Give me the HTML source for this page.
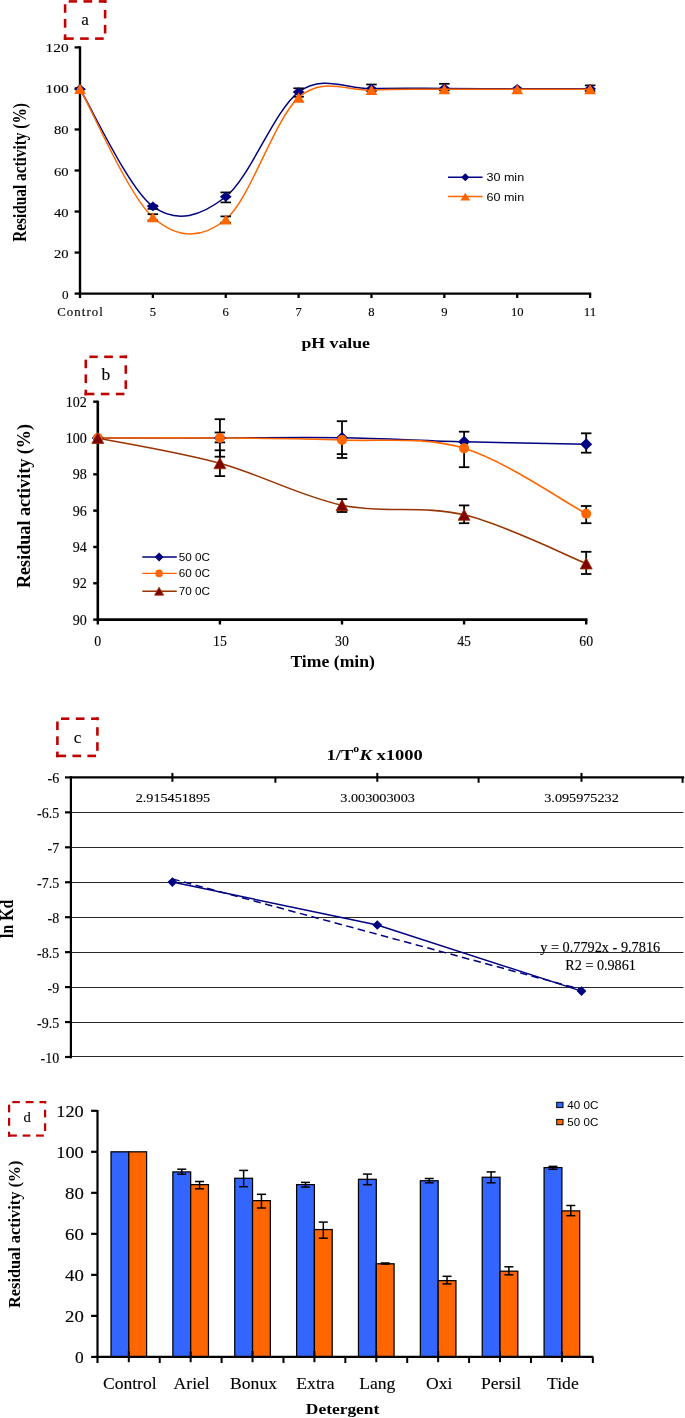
<!DOCTYPE html>
<html><head><meta charset="utf-8"><style>
html,body{margin:0;padding:0;background:#fff;}
svg{display:block;will-change:transform;}
</style></head><body>
<svg width="685" height="1418" viewBox="0 0 685 1418">
<rect width="685" height="1418" fill="#fff"/>
<line x1="68.7" y1="1.4" x2="77" y2="1.4" stroke="#C00000" stroke-width="2.6" />
<line x1="83.5" y1="1.4" x2="92.2" y2="1.4" stroke="#C00000" stroke-width="2.6" />
<line x1="98.8" y1="1.4" x2="106.4" y2="1.4" stroke="#C00000" stroke-width="2.6" />
<line x1="105.1" y1="0.1" x2="105.1" y2="2.9" stroke="#C00000" stroke-width="2.6" />
<line x1="105.1" y1="9.9" x2="105.1" y2="18.4" stroke="#C00000" stroke-width="2.6" />
<line x1="105.1" y1="24.9" x2="105.1" y2="33.5" stroke="#C00000" stroke-width="2.6" />
<line x1="63.8" y1="38.6" x2="73.7" y2="38.6" stroke="#C00000" stroke-width="2.6" />
<line x1="80.1" y1="38.6" x2="88.7" y2="38.6" stroke="#C00000" stroke-width="2.6" />
<line x1="95.1" y1="38.6" x2="103.7" y2="38.6" stroke="#C00000" stroke-width="2.6" />
<line x1="65.1" y1="4.25" x2="65.1" y2="12.8" stroke="#C00000" stroke-width="2.6" />
<line x1="65.1" y1="19" x2="65.1" y2="27.7" stroke="#C00000" stroke-width="2.6" />
<line x1="65.1" y1="34.3" x2="65.1" y2="39.9" stroke="#C00000" stroke-width="2.6" />
<text x="85.1" y="24.8" font-family='"Liberation Serif", serif' font-size="17" font-weight="normal" fill="#000" text-anchor="middle" stroke="#000" stroke-width="0.12">a</text>
<line x1="80" y1="46.3" x2="80" y2="294.8" stroke="#000" stroke-width="2.4" />
<line x1="78.8" y1="293.6" x2="591.2" y2="293.6" stroke="#000" stroke-width="2.4" />
<line x1="74.6" y1="293.6" x2="80" y2="293.6" stroke="#000" stroke-width="2.3" />
<text x="68.6" y="298.6" font-family='"Liberation Serif", serif' font-size="12.6" font-weight="normal" fill="#000" text-anchor="end" stroke="#000" stroke-width="0.12" textLength="6.6" lengthAdjust="spacingAndGlyphs">0</text>
<line x1="74.6" y1="252.57" x2="80" y2="252.57" stroke="#000" stroke-width="2.3" />
<text x="68.6" y="257.57" font-family='"Liberation Serif", serif' font-size="12.6" font-weight="normal" fill="#000" text-anchor="end" stroke="#000" stroke-width="0.12" textLength="14.6" lengthAdjust="spacingAndGlyphs">20</text>
<line x1="74.6" y1="211.53" x2="80" y2="211.53" stroke="#000" stroke-width="2.3" />
<text x="68.6" y="216.53" font-family='"Liberation Serif", serif' font-size="12.6" font-weight="normal" fill="#000" text-anchor="end" stroke="#000" stroke-width="0.12" textLength="14.6" lengthAdjust="spacingAndGlyphs">40</text>
<line x1="74.6" y1="170.5" x2="80" y2="170.5" stroke="#000" stroke-width="2.3" />
<text x="68.6" y="175.5" font-family='"Liberation Serif", serif' font-size="12.6" font-weight="normal" fill="#000" text-anchor="end" stroke="#000" stroke-width="0.12" textLength="14.6" lengthAdjust="spacingAndGlyphs">60</text>
<line x1="74.6" y1="129.46" x2="80" y2="129.46" stroke="#000" stroke-width="2.3" />
<text x="68.6" y="134.46" font-family='"Liberation Serif", serif' font-size="12.6" font-weight="normal" fill="#000" text-anchor="end" stroke="#000" stroke-width="0.12" textLength="14.6" lengthAdjust="spacingAndGlyphs">80</text>
<line x1="74.6" y1="88.43" x2="80" y2="88.43" stroke="#000" stroke-width="2.3" />
<text x="68.6" y="93.43" font-family='"Liberation Serif", serif' font-size="12.6" font-weight="normal" fill="#000" text-anchor="end" stroke="#000" stroke-width="0.12" textLength="23.1" lengthAdjust="spacingAndGlyphs">100</text>
<line x1="74.6" y1="47.4" x2="80" y2="47.4" stroke="#000" stroke-width="2.3" />
<text x="68.6" y="52.4" font-family='"Liberation Serif", serif' font-size="12.6" font-weight="normal" fill="#000" text-anchor="end" stroke="#000" stroke-width="0.12" textLength="23.1" lengthAdjust="spacingAndGlyphs">120</text>
<line x1="80" y1="293.6" x2="80" y2="298" stroke="#000" stroke-width="2.3" />
<text x="80" y="315.9" font-family='"Liberation Serif", serif' font-size="12.8" font-weight="normal" fill="#000" text-anchor="middle" stroke="#000" stroke-width="0.12" textLength="45.5" lengthAdjust="spacing">Control</text>
<line x1="152.87" y1="293.6" x2="152.87" y2="298" stroke="#000" stroke-width="2.3" />
<text x="152.87" y="315.9" font-family='"Liberation Serif", serif' font-size="12.6" font-weight="normal" fill="#000" text-anchor="middle" stroke="#000" stroke-width="0.12" textLength="6.3" lengthAdjust="spacingAndGlyphs">5</text>
<line x1="225.74" y1="293.6" x2="225.74" y2="298" stroke="#000" stroke-width="2.3" />
<text x="225.74" y="315.9" font-family='"Liberation Serif", serif' font-size="12.6" font-weight="normal" fill="#000" text-anchor="middle" stroke="#000" stroke-width="0.12" textLength="6.3" lengthAdjust="spacingAndGlyphs">6</text>
<line x1="298.61" y1="293.6" x2="298.61" y2="298" stroke="#000" stroke-width="2.3" />
<text x="298.61" y="315.9" font-family='"Liberation Serif", serif' font-size="12.6" font-weight="normal" fill="#000" text-anchor="middle" stroke="#000" stroke-width="0.12" textLength="6.3" lengthAdjust="spacingAndGlyphs">7</text>
<line x1="371.48" y1="293.6" x2="371.48" y2="298" stroke="#000" stroke-width="2.3" />
<text x="371.48" y="315.9" font-family='"Liberation Serif", serif' font-size="12.6" font-weight="normal" fill="#000" text-anchor="middle" stroke="#000" stroke-width="0.12" textLength="6.3" lengthAdjust="spacingAndGlyphs">8</text>
<line x1="444.35" y1="293.6" x2="444.35" y2="298" stroke="#000" stroke-width="2.3" />
<text x="444.35" y="315.9" font-family='"Liberation Serif", serif' font-size="12.6" font-weight="normal" fill="#000" text-anchor="middle" stroke="#000" stroke-width="0.12" textLength="6.3" lengthAdjust="spacingAndGlyphs">9</text>
<line x1="517.22" y1="293.6" x2="517.22" y2="298" stroke="#000" stroke-width="2.3" />
<text x="517.22" y="315.9" font-family='"Liberation Serif", serif' font-size="12.6" font-weight="normal" fill="#000" text-anchor="middle" stroke="#000" stroke-width="0.12" textLength="12.6" lengthAdjust="spacingAndGlyphs">10</text>
<line x1="590.09" y1="293.6" x2="590.09" y2="298" stroke="#000" stroke-width="2.3" />
<text x="590.09" y="315.9" font-family='"Liberation Serif", serif' font-size="12.6" font-weight="normal" fill="#000" text-anchor="middle" stroke="#000" stroke-width="0.12" textLength="12.6" lengthAdjust="spacingAndGlyphs">11</text>
<text x="335.7" y="347.9" font-family='"Liberation Serif", serif' font-size="13.9" font-weight="bold" fill="#000" text-anchor="middle" textLength="68.6" lengthAdjust="spacingAndGlyphs">pH value</text>
<text transform="translate(25.8,172.5) scale(1.19,1) rotate(-90)" font-family='"Liberation Serif", serif' font-size="15.3" font-weight="bold" text-anchor="middle" textLength="138.6" lengthAdjust="spacingAndGlyphs">Residual activity (%)</text>
<path d="M80,89.25 C92.14,108.78 128.58,188.48 152.87,206.4 C177.16,224.32 201.45,215.81 225.74,196.76 C250.03,177.71 274.32,110.14 298.61,92.12 C322.9,74.1 347.19,89.25 371.48,88.64 C395.77,88.02 420.06,88.4 444.35,88.43 C468.64,88.46 492.93,88.77 517.22,88.84 C541.51,88.91 577.95,88.84 590.09,88.84" fill="none" stroke="#000080" stroke-width="1.5" />
<line x1="152.87" y1="205.5" x2="152.87" y2="208.9" stroke="#000" stroke-width="1.7" />
<line x1="147.62" y1="205.5" x2="158.12" y2="205.5" stroke="#000" stroke-width="1.7" />
<line x1="147.62" y1="208.9" x2="158.12" y2="208.9" stroke="#000" stroke-width="1.7" />
<line x1="225.74" y1="192.4" x2="225.74" y2="202.4" stroke="#000" stroke-width="1.7" />
<line x1="220.49" y1="192.4" x2="230.99" y2="192.4" stroke="#000" stroke-width="1.7" />
<line x1="220.49" y1="202.4" x2="230.99" y2="202.4" stroke="#000" stroke-width="1.7" />
<line x1="298.61" y1="88.3" x2="298.61" y2="96.8" stroke="#000" stroke-width="1.7" />
<line x1="293.36" y1="88.3" x2="303.86" y2="88.3" stroke="#000" stroke-width="1.7" />
<line x1="293.36" y1="96.8" x2="303.86" y2="96.8" stroke="#000" stroke-width="1.7" />
<line x1="371.48" y1="84.5" x2="371.48" y2="91" stroke="#000" stroke-width="1.7" />
<line x1="366.23" y1="84.5" x2="376.73" y2="84.5" stroke="#000" stroke-width="1.7" />
<line x1="366.23" y1="91" x2="376.73" y2="91" stroke="#000" stroke-width="1.7" />
<line x1="444.35" y1="83.8" x2="444.35" y2="90.3" stroke="#000" stroke-width="1.7" />
<line x1="439.1" y1="83.8" x2="449.6" y2="83.8" stroke="#000" stroke-width="1.7" />
<line x1="439.1" y1="90.3" x2="449.6" y2="90.3" stroke="#000" stroke-width="1.7" />
<line x1="590.09" y1="85.4" x2="590.09" y2="91" stroke="#000" stroke-width="1.7" />
<line x1="584.84" y1="85.4" x2="595.34" y2="85.4" stroke="#000" stroke-width="1.7" />
<line x1="584.84" y1="91" x2="595.34" y2="91" stroke="#000" stroke-width="1.7" />
<path d="M80,84.35 L85.9,89.25 L80,94.15 L74.1,89.25Z" fill="#000080"/>
<path d="M152.87,201.5 L158.77,206.4 L152.87,211.3 L146.97,206.4Z" fill="#000080"/>
<path d="M225.74,191.86 L231.64,196.76 L225.74,201.66 L219.84,196.76Z" fill="#000080"/>
<path d="M298.61,87.22 L304.51,92.12 L298.61,97.02 L292.71,92.12Z" fill="#000080"/>
<path d="M371.48,83.74 L377.38,88.64 L371.48,93.54 L365.58,88.64Z" fill="#000080"/>
<path d="M444.35,83.53 L450.25,88.43 L444.35,93.33 L438.45,88.43Z" fill="#000080"/>
<path d="M517.22,83.94 L523.12,88.84 L517.22,93.74 L511.32,88.84Z" fill="#000080"/>
<path d="M590.09,83.94 L595.99,88.84 L590.09,93.74 L584.19,88.84Z" fill="#000080"/>
<path d="M80,88.84 C92.14,110.25 128.58,195.49 152.87,217.28 C177.16,239.06 201.45,239.47 225.74,219.53 C250.03,199.6 274.32,119.24 298.61,97.66 C322.9,76.09 347.19,91.47 371.48,90.07 C395.77,88.67 420.06,89.39 444.35,89.25 C468.64,89.11 492.93,89.25 517.22,89.25 C541.51,89.25 577.95,89.25 590.09,89.25" fill="none" stroke="#FF6600" stroke-width="1.5" />
<line x1="152.87" y1="214.2" x2="152.87" y2="220.4" stroke="#000" stroke-width="1.7" />
<line x1="147.62" y1="214.2" x2="158.12" y2="214.2" stroke="#000" stroke-width="1.7" />
<line x1="147.62" y1="220.4" x2="158.12" y2="220.4" stroke="#000" stroke-width="1.7" />
<line x1="225.74" y1="216.4" x2="225.74" y2="222.7" stroke="#000" stroke-width="1.7" />
<line x1="220.49" y1="216.4" x2="230.99" y2="216.4" stroke="#000" stroke-width="1.7" />
<line x1="220.49" y1="222.7" x2="230.99" y2="222.7" stroke="#000" stroke-width="1.7" />
<path d="M80,83.79 L85.9,93.89 L74.1,93.89Z" fill="#FF6600"/>
<path d="M152.87,212.23 L158.77,222.33 L146.97,222.33Z" fill="#FF6600"/>
<path d="M225.74,214.48 L231.64,224.58 L219.84,224.58Z" fill="#FF6600"/>
<path d="M298.61,92.61 L304.51,102.71 L292.71,102.71Z" fill="#FF6600"/>
<path d="M371.48,85.02 L377.38,95.12 L365.58,95.12Z" fill="#FF6600"/>
<path d="M444.35,84.2 L450.25,94.3 L438.45,94.3Z" fill="#FF6600"/>
<path d="M517.22,84.2 L523.12,94.3 L511.32,94.3Z" fill="#FF6600"/>
<path d="M590.09,84.2 L595.99,94.3 L584.19,94.3Z" fill="#FF6600"/>
<line x1="448" y1="177.2" x2="482.6" y2="177.2" stroke="#000080" stroke-width="1.4" />
<path d="M465.3,173.2 L469.4,177.2 L465.3,181.2 L461.2,177.2Z" fill="#000080"/>
<text x="486.4" y="181.2" font-family='"Liberation Sans", sans-serif' font-size="11.2" font-weight="normal" fill="#000" text-anchor="start" textLength="37.8" lengthAdjust="spacingAndGlyphs">30 min</text>
<line x1="448" y1="196.5" x2="482.6" y2="196.5" stroke="#FF6600" stroke-width="1.4" />
<path d="M465.3,192.8 L470.2,200.6 L460.4,200.6Z" fill="#FF6600"/>
<text x="486.4" y="200.5" font-family='"Liberation Sans", sans-serif' font-size="11.2" font-weight="normal" fill="#000" text-anchor="start" textLength="37.8" lengthAdjust="spacingAndGlyphs">60 min</text>
<line x1="89.4" y1="356.8" x2="97.7" y2="356.8" stroke="#C00000" stroke-width="2.6" />
<line x1="104.2" y1="356.8" x2="112.9" y2="356.8" stroke="#C00000" stroke-width="2.6" />
<line x1="119.5" y1="356.8" x2="127.1" y2="356.8" stroke="#C00000" stroke-width="2.6" />
<line x1="125.8" y1="355.5" x2="125.8" y2="358.3" stroke="#C00000" stroke-width="2.6" />
<line x1="125.8" y1="365.3" x2="125.8" y2="373.8" stroke="#C00000" stroke-width="2.6" />
<line x1="125.8" y1="380.3" x2="125.8" y2="388.9" stroke="#C00000" stroke-width="2.6" />
<line x1="84.5" y1="394" x2="94.4" y2="394" stroke="#C00000" stroke-width="2.6" />
<line x1="100.8" y1="394" x2="109.4" y2="394" stroke="#C00000" stroke-width="2.6" />
<line x1="115.8" y1="394" x2="124.4" y2="394" stroke="#C00000" stroke-width="2.6" />
<line x1="85.8" y1="359.65" x2="85.8" y2="368.2" stroke="#C00000" stroke-width="2.6" />
<line x1="85.8" y1="374.4" x2="85.8" y2="383.1" stroke="#C00000" stroke-width="2.6" />
<line x1="85.8" y1="389.7" x2="85.8" y2="395.3" stroke="#C00000" stroke-width="2.6" />
<text x="105.9" y="379.9" font-family='"Liberation Serif", serif' font-size="17.5" font-weight="normal" fill="#000" text-anchor="middle" stroke="#000" stroke-width="0.12">b</text>
<line x1="97.8" y1="400.7" x2="97.8" y2="620.6" stroke="#000" stroke-width="2.6" />
<line x1="96.5" y1="619.6" x2="587.5" y2="619.6" stroke="#000" stroke-width="2.6" />
<line x1="93.2" y1="619.6" x2="97.8" y2="619.6" stroke="#000" stroke-width="2.4" />
<text x="86.8" y="624.6" font-family='"Liberation Serif", serif' font-size="14.1" font-weight="normal" fill="#000" text-anchor="end" stroke="#000" stroke-width="0.12">90</text>
<line x1="93.2" y1="583.28" x2="97.8" y2="583.28" stroke="#000" stroke-width="2.4" />
<text x="86.8" y="588.28" font-family='"Liberation Serif", serif' font-size="14.1" font-weight="normal" fill="#000" text-anchor="end" stroke="#000" stroke-width="0.12">92</text>
<line x1="93.2" y1="546.96" x2="97.8" y2="546.96" stroke="#000" stroke-width="2.4" />
<text x="86.8" y="551.96" font-family='"Liberation Serif", serif' font-size="14.1" font-weight="normal" fill="#000" text-anchor="end" stroke="#000" stroke-width="0.12">94</text>
<line x1="93.2" y1="510.64" x2="97.8" y2="510.64" stroke="#000" stroke-width="2.4" />
<text x="86.8" y="515.64" font-family='"Liberation Serif", serif' font-size="14.1" font-weight="normal" fill="#000" text-anchor="end" stroke="#000" stroke-width="0.12">96</text>
<line x1="93.2" y1="474.32" x2="97.8" y2="474.32" stroke="#000" stroke-width="2.4" />
<text x="86.8" y="479.32" font-family='"Liberation Serif", serif' font-size="14.1" font-weight="normal" fill="#000" text-anchor="end" stroke="#000" stroke-width="0.12">98</text>
<line x1="93.2" y1="438" x2="97.8" y2="438" stroke="#000" stroke-width="2.4" />
<text x="86.8" y="443" font-family='"Liberation Serif", serif' font-size="14.1" font-weight="normal" fill="#000" text-anchor="end" stroke="#000" stroke-width="0.12">100</text>
<line x1="93.2" y1="401.68" x2="97.8" y2="401.68" stroke="#000" stroke-width="2.4" />
<text x="86.8" y="406.68" font-family='"Liberation Serif", serif' font-size="14.1" font-weight="normal" fill="#000" text-anchor="end" stroke="#000" stroke-width="0.12">102</text>
<line x1="97.8" y1="619.6" x2="97.8" y2="624.5" stroke="#000" stroke-width="2.4" />
<text x="97.8" y="646" font-family='"Liberation Serif", serif' font-size="13.8" font-weight="normal" fill="#000" text-anchor="middle" stroke="#000" stroke-width="0.12">0</text>
<line x1="219.9" y1="619.6" x2="219.9" y2="624.5" stroke="#000" stroke-width="2.4" />
<text x="219.9" y="646" font-family='"Liberation Serif", serif' font-size="13.8" font-weight="normal" fill="#000" text-anchor="middle" stroke="#000" stroke-width="0.12">15</text>
<line x1="342" y1="619.6" x2="342" y2="624.5" stroke="#000" stroke-width="2.4" />
<text x="342" y="646" font-family='"Liberation Serif", serif' font-size="13.8" font-weight="normal" fill="#000" text-anchor="middle" stroke="#000" stroke-width="0.12">30</text>
<line x1="464.1" y1="619.6" x2="464.1" y2="624.5" stroke="#000" stroke-width="2.4" />
<text x="464.1" y="646" font-family='"Liberation Serif", serif' font-size="13.8" font-weight="normal" fill="#000" text-anchor="middle" stroke="#000" stroke-width="0.12">45</text>
<line x1="586.2" y1="619.6" x2="586.2" y2="624.5" stroke="#000" stroke-width="2.4" />
<text x="586.2" y="646" font-family='"Liberation Serif", serif' font-size="13.8" font-weight="normal" fill="#000" text-anchor="middle" stroke="#000" stroke-width="0.12">60</text>
<text x="332.7" y="667" font-family='"Liberation Serif", serif' font-size="17.5" font-weight="bold" fill="#000" text-anchor="middle" textLength="84.6" lengthAdjust="spacingAndGlyphs">Time (min)</text>
<text transform="translate(30.1,506) rotate(-90)" font-family='"Liberation Serif", serif' font-size="18" font-weight="bold" fill="#000" text-anchor="middle" textLength="164" lengthAdjust="spacingAndGlyphs">Residual activity (%)</text>
<path d="M97.8,438 C118.15,442.21 179.2,452.04 219.9,463.24 C260.6,474.44 301.3,496.6 342,505.19 C382.7,513.79 423.4,505.1 464.1,514.82 C504.8,524.53 565.85,555.37 586.2,563.49" fill="none" stroke="#993300" stroke-width="1.6" />
<path d="M97.8,438 C118.15,438 179.2,438.03 219.9,438 C260.6,437.97 301.3,437.18 342,437.82 C382.7,438.45 423.4,440.75 464.1,441.81 C504.8,442.87 565.85,443.78 586.2,444.17" fill="none" stroke="#000080" stroke-width="1.5" />
<path d="M97.8,438 C118.15,438 179.2,437.67 219.9,438 C260.6,438.33 301.3,438.27 342,440 C382.7,441.72 423.4,436.06 464.1,448.35 C504.8,460.64 565.85,502.83 586.2,513.73" fill="none" stroke="#FF6600" stroke-width="1.6" />
<line x1="219.9" y1="419.2" x2="219.9" y2="456.7" stroke="#000" stroke-width="1.8" />
<line x1="214.65" y1="419.2" x2="225.15" y2="419.2" stroke="#000" stroke-width="1.8" />
<line x1="214.65" y1="456.7" x2="225.15" y2="456.7" stroke="#000" stroke-width="1.8" />
<line x1="214.65" y1="432.5" x2="225.15" y2="432.5" stroke="#000" stroke-width="1.8" />
<line x1="214.65" y1="442.4" x2="225.15" y2="442.4" stroke="#000" stroke-width="1.8" />
<line x1="219.9" y1="450.3" x2="219.9" y2="476.1" stroke="#000" stroke-width="1.8" />
<line x1="214.65" y1="450.3" x2="225.15" y2="450.3" stroke="#000" stroke-width="1.8" />
<line x1="214.65" y1="476.1" x2="225.15" y2="476.1" stroke="#000" stroke-width="1.8" />
<line x1="342" y1="421.2" x2="342" y2="458" stroke="#000" stroke-width="1.8" />
<line x1="336.75" y1="421.2" x2="347.25" y2="421.2" stroke="#000" stroke-width="1.8" />
<line x1="336.75" y1="458" x2="347.25" y2="458" stroke="#000" stroke-width="1.8" />
<line x1="336.75" y1="454.1" x2="347.25" y2="454.1" stroke="#000" stroke-width="1.8" />
<line x1="342" y1="499.1" x2="342" y2="512" stroke="#000" stroke-width="1.8" />
<line x1="336.75" y1="499.1" x2="347.25" y2="499.1" stroke="#000" stroke-width="1.8" />
<line x1="336.75" y1="512" x2="347.25" y2="512" stroke="#000" stroke-width="1.8" />
<line x1="464.1" y1="431.7" x2="464.1" y2="467.2" stroke="#000" stroke-width="1.8" />
<line x1="458.85" y1="431.7" x2="469.35" y2="431.7" stroke="#000" stroke-width="1.8" />
<line x1="458.85" y1="467.2" x2="469.35" y2="467.2" stroke="#000" stroke-width="1.8" />
<line x1="464.1" y1="505.4" x2="464.1" y2="523.2" stroke="#000" stroke-width="1.8" />
<line x1="458.85" y1="505.4" x2="469.35" y2="505.4" stroke="#000" stroke-width="1.8" />
<line x1="458.85" y1="523.2" x2="469.35" y2="523.2" stroke="#000" stroke-width="1.8" />
<line x1="586.2" y1="433.3" x2="586.2" y2="452.7" stroke="#000" stroke-width="1.8" />
<line x1="580.95" y1="433.3" x2="591.45" y2="433.3" stroke="#000" stroke-width="1.8" />
<line x1="580.95" y1="452.7" x2="591.45" y2="452.7" stroke="#000" stroke-width="1.8" />
<line x1="586.2" y1="506" x2="586.2" y2="523.2" stroke="#000" stroke-width="1.8" />
<line x1="580.95" y1="506" x2="591.45" y2="506" stroke="#000" stroke-width="1.8" />
<line x1="580.95" y1="523.2" x2="591.45" y2="523.2" stroke="#000" stroke-width="1.8" />
<line x1="586.2" y1="551.8" x2="586.2" y2="574" stroke="#000" stroke-width="1.8" />
<line x1="580.95" y1="551.8" x2="591.45" y2="551.8" stroke="#000" stroke-width="1.8" />
<line x1="580.95" y1="574" x2="591.45" y2="574" stroke="#000" stroke-width="1.8" />
<path d="M97.8,432 L103.8,438 L97.8,444 L91.8,438Z" fill="#000080"/>
<path d="M219.9,432 L225.9,438 L219.9,444 L213.9,438Z" fill="#000080"/>
<path d="M342,431.82 L348,437.82 L342,443.82 L336,437.82Z" fill="#000080"/>
<path d="M464.1,435.81 L470.1,441.81 L464.1,447.81 L458.1,441.81Z" fill="#000080"/>
<path d="M586.2,438.17 L592.2,444.17 L586.2,450.17 L580.2,444.17Z" fill="#000080"/>
<circle cx="97.8" cy="438" r="5" fill="#FF6600"/>
<circle cx="219.9" cy="438" r="5" fill="#FF6600"/>
<circle cx="342" cy="440" r="5" fill="#FF6600"/>
<circle cx="464.1" cy="448.35" r="5" fill="#FF6600"/>
<circle cx="586.2" cy="513.73" r="5" fill="#FF6600"/>
<path d="M97.8,432.5 L103.8,443.5 L91.8,443.5Z" fill="#800000" stroke="#993300" stroke-width="0.8"/>
<path d="M219.9,457.74 L225.9,468.74 L213.9,468.74Z" fill="#800000" stroke="#993300" stroke-width="0.8"/>
<path d="M342,499.69 L348,510.69 L336,510.69Z" fill="#800000" stroke="#993300" stroke-width="0.8"/>
<path d="M464.1,509.32 L470.1,520.32 L458.1,520.32Z" fill="#800000" stroke="#993300" stroke-width="0.8"/>
<path d="M586.2,557.99 L592.2,568.99 L580.2,568.99Z" fill="#800000" stroke="#993300" stroke-width="0.8"/>
<line x1="142.3" y1="557" x2="176.8" y2="557" stroke="#000080" stroke-width="1.4" />
<path d="M159.1,552.5 L163.6,557 L159.1,561.5 L154.6,557Z" fill="#000080"/>
<line x1="142.3" y1="573.4" x2="176.8" y2="573.4" stroke="#FF6600" stroke-width="1.4" />
<circle cx="159.1" cy="573.4" r="3.8" fill="#FF6600"/>
<line x1="142.3" y1="591.2" x2="176.8" y2="591.2" stroke="#993300" stroke-width="1.4" />
<path d="M159.1,587.2 L163.6,595.2 L154.6,595.2Z" fill="#800000" stroke="#993300" stroke-width="0.8"/>
<text x="178.8" y="561" font-family='"Liberation Sans", sans-serif' font-size="11.2" font-weight="normal" fill="#000" text-anchor="start" textLength="31.3" lengthAdjust="spacingAndGlyphs">50 0C</text>
<text x="178.8" y="577.4" font-family='"Liberation Sans", sans-serif' font-size="11.2" font-weight="normal" fill="#000" text-anchor="start" textLength="31.3" lengthAdjust="spacingAndGlyphs">60 0C</text>
<text x="178.8" y="595.2" font-family='"Liberation Sans", sans-serif' font-size="11.2" font-weight="normal" fill="#000" text-anchor="start" textLength="31.3" lengthAdjust="spacingAndGlyphs">70 0C</text>
<line x1="61" y1="718.7" x2="69.3" y2="718.7" stroke="#C00000" stroke-width="2.6" />
<line x1="75.8" y1="718.7" x2="84.5" y2="718.7" stroke="#C00000" stroke-width="2.6" />
<line x1="91.1" y1="718.7" x2="98.7" y2="718.7" stroke="#C00000" stroke-width="2.6" />
<line x1="97.4" y1="717.4" x2="97.4" y2="720.2" stroke="#C00000" stroke-width="2.6" />
<line x1="97.4" y1="727.2" x2="97.4" y2="735.7" stroke="#C00000" stroke-width="2.6" />
<line x1="97.4" y1="742.2" x2="97.4" y2="750.8" stroke="#C00000" stroke-width="2.6" />
<line x1="56.1" y1="755.9" x2="66" y2="755.9" stroke="#C00000" stroke-width="2.6" />
<line x1="72.4" y1="755.9" x2="81" y2="755.9" stroke="#C00000" stroke-width="2.6" />
<line x1="87.4" y1="755.9" x2="96" y2="755.9" stroke="#C00000" stroke-width="2.6" />
<line x1="57.4" y1="721.55" x2="57.4" y2="730.1" stroke="#C00000" stroke-width="2.6" />
<line x1="57.4" y1="736.3" x2="57.4" y2="745" stroke="#C00000" stroke-width="2.6" />
<line x1="57.4" y1="751.6" x2="57.4" y2="757.2" stroke="#C00000" stroke-width="2.6" />
<text x="77.5" y="742.5" font-family='"Liberation Serif", serif' font-size="17" font-weight="normal" fill="#000" text-anchor="middle" stroke="#000" stroke-width="0.12">c</text>
<line x1="70.9" y1="812.5" x2="683.4" y2="812.5" stroke="#262626" stroke-width="1.15" />
<line x1="70.9" y1="847.5" x2="683.4" y2="847.5" stroke="#262626" stroke-width="1.15" />
<line x1="70.9" y1="882.5" x2="683.4" y2="882.5" stroke="#262626" stroke-width="1.15" />
<line x1="70.9" y1="917.5" x2="683.4" y2="917.5" stroke="#262626" stroke-width="1.15" />
<line x1="70.9" y1="952.5" x2="683.4" y2="952.5" stroke="#262626" stroke-width="1.15" />
<line x1="70.9" y1="987.5" x2="683.4" y2="987.5" stroke="#262626" stroke-width="1.15" />
<line x1="70.9" y1="1022.5" x2="683.4" y2="1022.5" stroke="#262626" stroke-width="1.15" />
<line x1="70.9" y1="1056.5" x2="683.4" y2="1056.5" stroke="#262626" stroke-width="1.15" />
<line x1="70.9" y1="776.2" x2="70.9" y2="1058.2" stroke="#000" stroke-width="2.2" />
<line x1="69.9" y1="777.4" x2="684.2" y2="777.4" stroke="#000" stroke-width="2.4" />
<line x1="65" y1="777.4" x2="70.9" y2="777.4" stroke="#000" stroke-width="2.2" />
<text x="59.2" y="783.1" font-family='"Liberation Serif", serif' font-size="14" font-weight="normal" fill="#000" text-anchor="end" stroke="#000" stroke-width="0.12">-6</text>
<line x1="65" y1="812.35" x2="70.9" y2="812.35" stroke="#000" stroke-width="2.2" />
<text x="59.2" y="818.05" font-family='"Liberation Serif", serif' font-size="14" font-weight="normal" fill="#000" text-anchor="end" stroke="#000" stroke-width="0.12">-6.5</text>
<line x1="65" y1="847.3" x2="70.9" y2="847.3" stroke="#000" stroke-width="2.2" />
<text x="59.2" y="853" font-family='"Liberation Serif", serif' font-size="14" font-weight="normal" fill="#000" text-anchor="end" stroke="#000" stroke-width="0.12">-7</text>
<line x1="65" y1="882.25" x2="70.9" y2="882.25" stroke="#000" stroke-width="2.2" />
<text x="59.2" y="887.95" font-family='"Liberation Serif", serif' font-size="14" font-weight="normal" fill="#000" text-anchor="end" stroke="#000" stroke-width="0.12">-7.5</text>
<line x1="65" y1="917.2" x2="70.9" y2="917.2" stroke="#000" stroke-width="2.2" />
<text x="59.2" y="922.9" font-family='"Liberation Serif", serif' font-size="14" font-weight="normal" fill="#000" text-anchor="end" stroke="#000" stroke-width="0.12">-8</text>
<line x1="65" y1="952.15" x2="70.9" y2="952.15" stroke="#000" stroke-width="2.2" />
<text x="59.2" y="957.85" font-family='"Liberation Serif", serif' font-size="14" font-weight="normal" fill="#000" text-anchor="end" stroke="#000" stroke-width="0.12">-8.5</text>
<line x1="65" y1="987.1" x2="70.9" y2="987.1" stroke="#000" stroke-width="2.2" />
<text x="59.2" y="992.8" font-family='"Liberation Serif", serif' font-size="14" font-weight="normal" fill="#000" text-anchor="end" stroke="#000" stroke-width="0.12">-9</text>
<line x1="65" y1="1022.05" x2="70.9" y2="1022.05" stroke="#000" stroke-width="2.2" />
<text x="59.2" y="1027.75" font-family='"Liberation Serif", serif' font-size="14" font-weight="normal" fill="#000" text-anchor="end" stroke="#000" stroke-width="0.12">-9.5</text>
<line x1="65" y1="1057" x2="70.9" y2="1057" stroke="#000" stroke-width="2.2" />
<text x="59.2" y="1062.7" font-family='"Liberation Serif", serif' font-size="14" font-weight="normal" fill="#000" text-anchor="end" stroke="#000" stroke-width="0.12">-10</text>
<line x1="172.4" y1="772.9" x2="172.4" y2="781.8" stroke="#000" stroke-width="2" />
<line x1="377.3" y1="772.9" x2="377.3" y2="781.8" stroke="#000" stroke-width="2" />
<line x1="581.5" y1="772.9" x2="581.5" y2="781.8" stroke="#000" stroke-width="2" />
<line x1="275.4" y1="777.4" x2="275.4" y2="782.8" stroke="#000" stroke-width="2" />
<line x1="478.6" y1="777.4" x2="478.6" y2="782.8" stroke="#000" stroke-width="2" />
<line x1="682.6" y1="777.4" x2="682.6" y2="782.8" stroke="#000" stroke-width="2" />
<text x="172.9" y="802.2" font-family='"Liberation Serif", serif' font-size="13" font-weight="normal" fill="#000" text-anchor="middle" stroke="#000" stroke-width="0.12" textLength="74.5" lengthAdjust="spacingAndGlyphs">2.915451895</text>
<text x="377.6" y="802.2" font-family='"Liberation Serif", serif' font-size="13" font-weight="normal" fill="#000" text-anchor="middle" stroke="#000" stroke-width="0.12" textLength="74.5" lengthAdjust="spacingAndGlyphs">3.003003003</text>
<text x="581.5" y="802.2" font-family='"Liberation Serif", serif' font-size="13" font-weight="normal" fill="#000" text-anchor="middle" stroke="#000" stroke-width="0.12" textLength="74.5" lengthAdjust="spacingAndGlyphs">3.095975232</text>
<text x="374.6" y="759.9" font-family='"Liberation Serif", serif' font-size="15" font-weight="bold" text-anchor="middle" textLength="96.2" lengthAdjust="spacingAndGlyphs">1/T<tspan font-size="9.5" dy="-7.6">o</tspan><tspan dy="7.6" dx="0.3" font-style="italic">K</tspan> x1000</text>
<text transform="translate(12.8,918.8) scale(1.15,1) rotate(-90)" font-family='"Liberation Serif", serif' font-size="16" font-weight="bold" text-anchor="middle" textLength="38.3" lengthAdjust="spacingAndGlyphs">ln Kd</text>
<line x1="172.4" y1="878.9" x2="581.5" y2="989.5" stroke="#000080" stroke-width="1.5" stroke-dasharray="7.5,4.5"/>
<path d="M172.4,882.1 L377.3,925 L581.5,991.1" fill="none" stroke="#000080" stroke-width="1.5" />
<path d="M172.4,877.3 L177.3,882.1 L172.4,886.9 L167.5,882.1Z" fill="#000080"/>
<path d="M377.3,920.2 L382.2,925 L377.3,929.8 L372.4,925Z" fill="#000080"/>
<path d="M581.5,986.3 L586.4,991.1 L581.5,995.9 L576.6,991.1Z" fill="#000080"/>
<text x="600.2" y="952.1" font-family='"Liberation Serif", serif' font-size="13.6" font-weight="normal" fill="#000" text-anchor="middle" stroke="#000" stroke-width="0.12" textLength="120" lengthAdjust="spacingAndGlyphs">y = 0.7792x - 9.7816</text>
<text x="600.6" y="969.5" font-family='"Liberation Serif", serif' font-size="13.6" font-weight="normal" fill="#000" text-anchor="middle" stroke="#000" stroke-width="0.12" textLength="70.5" lengthAdjust="spacingAndGlyphs">R2 = 0.9861</text>
<line x1="12.34" y1="1102.1" x2="19.81" y2="1102.1" stroke="#C00000" stroke-width="2.2" />
<line x1="25.66" y1="1102.1" x2="33.49" y2="1102.1" stroke="#C00000" stroke-width="2.2" />
<line x1="39.43" y1="1102.1" x2="46.2" y2="1102.1" stroke="#C00000" stroke-width="2.2" />
<line x1="45.1" y1="1101" x2="45.1" y2="1103.45" stroke="#C00000" stroke-width="2.2" />
<line x1="45.1" y1="1109.75" x2="45.1" y2="1117.4" stroke="#C00000" stroke-width="2.2" />
<line x1="45.1" y1="1123.25" x2="45.1" y2="1130.99" stroke="#C00000" stroke-width="2.2" />
<line x1="8" y1="1135.58" x2="16.84" y2="1135.58" stroke="#C00000" stroke-width="2.2" />
<line x1="22.6" y1="1135.58" x2="30.34" y2="1135.58" stroke="#C00000" stroke-width="2.2" />
<line x1="36.1" y1="1135.58" x2="43.84" y2="1135.58" stroke="#C00000" stroke-width="2.2" />
<line x1="9.1" y1="1104.66" x2="9.1" y2="1112.36" stroke="#C00000" stroke-width="2.2" />
<line x1="9.1" y1="1117.94" x2="9.1" y2="1125.77" stroke="#C00000" stroke-width="2.2" />
<line x1="9.1" y1="1131.71" x2="9.1" y2="1136.68" stroke="#C00000" stroke-width="2.2" />
<text x="27.2" y="1121.5" font-family='"Liberation Serif", serif' font-size="14.6" font-weight="normal" fill="#000" text-anchor="middle" stroke="#000" stroke-width="0.12">d</text>
<line x1="97.5" y1="1110" x2="97.5" y2="1363" stroke="#000" stroke-width="2.2" />
<line x1="91.1" y1="1356.9" x2="97.5" y2="1356.9" stroke="#000" stroke-width="2.2" />
<text x="83.8" y="1362.8" font-family='"Liberation Serif", serif' font-size="17.4" font-weight="normal" fill="#000" text-anchor="end" stroke="#000" stroke-width="0.12" textLength="8.7" lengthAdjust="spacingAndGlyphs">0</text>
<line x1="91.1" y1="1315.88" x2="97.5" y2="1315.88" stroke="#000" stroke-width="2.2" />
<text x="83.8" y="1321.78" font-family='"Liberation Serif", serif' font-size="17.4" font-weight="normal" fill="#000" text-anchor="end" stroke="#000" stroke-width="0.12" textLength="18.8" lengthAdjust="spacingAndGlyphs">20</text>
<line x1="91.1" y1="1274.87" x2="97.5" y2="1274.87" stroke="#000" stroke-width="2.2" />
<text x="83.8" y="1280.77" font-family='"Liberation Serif", serif' font-size="17.4" font-weight="normal" fill="#000" text-anchor="end" stroke="#000" stroke-width="0.12" textLength="18.8" lengthAdjust="spacingAndGlyphs">40</text>
<line x1="91.1" y1="1233.85" x2="97.5" y2="1233.85" stroke="#000" stroke-width="2.2" />
<text x="83.8" y="1239.75" font-family='"Liberation Serif", serif' font-size="17.4" font-weight="normal" fill="#000" text-anchor="end" stroke="#000" stroke-width="0.12" textLength="18.8" lengthAdjust="spacingAndGlyphs">60</text>
<line x1="91.1" y1="1192.84" x2="97.5" y2="1192.84" stroke="#000" stroke-width="2.2" />
<text x="83.8" y="1198.74" font-family='"Liberation Serif", serif' font-size="17.4" font-weight="normal" fill="#000" text-anchor="end" stroke="#000" stroke-width="0.12" textLength="18.8" lengthAdjust="spacingAndGlyphs">80</text>
<line x1="91.1" y1="1151.82" x2="97.5" y2="1151.82" stroke="#000" stroke-width="2.2" />
<text x="83.8" y="1157.72" font-family='"Liberation Serif", serif' font-size="17.4" font-weight="normal" fill="#000" text-anchor="end" stroke="#000" stroke-width="0.12" textLength="27.5" lengthAdjust="spacingAndGlyphs">100</text>
<line x1="91.1" y1="1110.8" x2="97.5" y2="1110.8" stroke="#000" stroke-width="2.2" />
<text x="83.8" y="1116.7" font-family='"Liberation Serif", serif' font-size="17.4" font-weight="normal" fill="#000" text-anchor="end" stroke="#000" stroke-width="0.12" textLength="27.5" lengthAdjust="spacingAndGlyphs">120</text>
<rect x="111" y="1151.82" width="17.8" height="205.08" fill="#3366FF" stroke="#000" stroke-width="1.25"/>
<rect x="128.8" y="1151.82" width="17.8" height="205.08" fill="#FF6600" stroke="#000" stroke-width="1.25"/>
<rect x="172.87" y="1171.92" width="17.8" height="184.98" fill="#3366FF" stroke="#000" stroke-width="1.25"/>
<rect x="190.67" y="1184.63" width="17.8" height="172.27" fill="#FF6600" stroke="#000" stroke-width="1.25"/>
<line x1="181.77" y1="1169.2" x2="181.77" y2="1174.2" stroke="#000" stroke-width="1.5" />
<line x1="177.27" y1="1169.2" x2="186.27" y2="1169.2" stroke="#000" stroke-width="1.5" />
<line x1="177.27" y1="1174.2" x2="186.27" y2="1174.2" stroke="#000" stroke-width="1.5" />
<line x1="199.57" y1="1181.5" x2="199.57" y2="1188.8" stroke="#000" stroke-width="1.5" />
<line x1="195.07" y1="1181.5" x2="204.07" y2="1181.5" stroke="#000" stroke-width="1.5" />
<line x1="195.07" y1="1188.8" x2="204.07" y2="1188.8" stroke="#000" stroke-width="1.5" />
<rect x="234.74" y="1178.28" width="17.8" height="178.62" fill="#3366FF" stroke="#000" stroke-width="1.25"/>
<rect x="252.54" y="1200.63" width="17.8" height="156.27" fill="#FF6600" stroke="#000" stroke-width="1.25"/>
<line x1="243.64" y1="1170.4" x2="243.64" y2="1186.7" stroke="#000" stroke-width="1.5" />
<line x1="239.14" y1="1170.4" x2="248.14" y2="1170.4" stroke="#000" stroke-width="1.5" />
<line x1="239.14" y1="1186.7" x2="248.14" y2="1186.7" stroke="#000" stroke-width="1.5" />
<line x1="261.44" y1="1194.3" x2="261.44" y2="1208" stroke="#000" stroke-width="1.5" />
<line x1="256.94" y1="1194.3" x2="265.94" y2="1194.3" stroke="#000" stroke-width="1.5" />
<line x1="256.94" y1="1208" x2="265.94" y2="1208" stroke="#000" stroke-width="1.5" />
<rect x="296.61" y="1184.63" width="17.8" height="172.27" fill="#3366FF" stroke="#000" stroke-width="1.25"/>
<rect x="314.41" y="1229.55" width="17.8" height="127.35" fill="#FF6600" stroke="#000" stroke-width="1.25"/>
<line x1="305.51" y1="1182.4" x2="305.51" y2="1187.1" stroke="#000" stroke-width="1.5" />
<line x1="301.01" y1="1182.4" x2="310.01" y2="1182.4" stroke="#000" stroke-width="1.5" />
<line x1="301.01" y1="1187.1" x2="310.01" y2="1187.1" stroke="#000" stroke-width="1.5" />
<line x1="323.31" y1="1222.1" x2="323.31" y2="1238.2" stroke="#000" stroke-width="1.5" />
<line x1="318.81" y1="1222.1" x2="327.81" y2="1222.1" stroke="#000" stroke-width="1.5" />
<line x1="318.81" y1="1238.2" x2="327.81" y2="1238.2" stroke="#000" stroke-width="1.5" />
<rect x="358.48" y="1179.3" width="17.8" height="177.6" fill="#3366FF" stroke="#000" stroke-width="1.25"/>
<rect x="376.28" y="1263.79" width="17.8" height="93.11" fill="#FF6600" stroke="#000" stroke-width="1.25"/>
<line x1="367.38" y1="1174.1" x2="367.38" y2="1184.7" stroke="#000" stroke-width="1.5" />
<line x1="362.88" y1="1174.1" x2="371.88" y2="1174.1" stroke="#000" stroke-width="1.5" />
<line x1="362.88" y1="1184.7" x2="371.88" y2="1184.7" stroke="#000" stroke-width="1.5" />
<line x1="385.18" y1="1263" x2="385.18" y2="1264" stroke="#000" stroke-width="1.5" />
<line x1="380.68" y1="1263" x2="389.68" y2="1263" stroke="#000" stroke-width="1.5" />
<line x1="380.68" y1="1264" x2="389.68" y2="1264" stroke="#000" stroke-width="1.5" />
<rect x="420.35" y="1180.74" width="17.8" height="176.16" fill="#3366FF" stroke="#000" stroke-width="1.25"/>
<rect x="438.15" y="1280.61" width="17.8" height="76.29" fill="#FF6600" stroke="#000" stroke-width="1.25"/>
<line x1="429.25" y1="1178.5" x2="429.25" y2="1182.8" stroke="#000" stroke-width="1.5" />
<line x1="424.75" y1="1178.5" x2="433.75" y2="1178.5" stroke="#000" stroke-width="1.5" />
<line x1="424.75" y1="1182.8" x2="433.75" y2="1182.8" stroke="#000" stroke-width="1.5" />
<line x1="447.05" y1="1276.3" x2="447.05" y2="1283.9" stroke="#000" stroke-width="1.5" />
<line x1="442.55" y1="1276.3" x2="451.55" y2="1276.3" stroke="#000" stroke-width="1.5" />
<line x1="442.55" y1="1283.9" x2="451.55" y2="1283.9" stroke="#000" stroke-width="1.5" />
<rect x="482.22" y="1177.25" width="17.8" height="179.65" fill="#3366FF" stroke="#000" stroke-width="1.25"/>
<rect x="500.02" y="1271.18" width="17.8" height="85.72" fill="#FF6600" stroke="#000" stroke-width="1.25"/>
<line x1="491.12" y1="1171.9" x2="491.12" y2="1182.8" stroke="#000" stroke-width="1.5" />
<line x1="486.62" y1="1171.9" x2="495.62" y2="1171.9" stroke="#000" stroke-width="1.5" />
<line x1="486.62" y1="1182.8" x2="495.62" y2="1182.8" stroke="#000" stroke-width="1.5" />
<line x1="508.92" y1="1266.8" x2="508.92" y2="1274.8" stroke="#000" stroke-width="1.5" />
<line x1="504.42" y1="1266.8" x2="513.42" y2="1266.8" stroke="#000" stroke-width="1.5" />
<line x1="504.42" y1="1274.8" x2="513.42" y2="1274.8" stroke="#000" stroke-width="1.5" />
<rect x="544.09" y="1167.61" width="17.8" height="189.29" fill="#3366FF" stroke="#000" stroke-width="1.25"/>
<rect x="561.89" y="1210.88" width="17.8" height="146.02" fill="#FF6600" stroke="#000" stroke-width="1.25"/>
<line x1="552.99" y1="1166.4" x2="552.99" y2="1169.3" stroke="#000" stroke-width="1.5" />
<line x1="548.49" y1="1166.4" x2="557.49" y2="1166.4" stroke="#000" stroke-width="1.5" />
<line x1="548.49" y1="1169.3" x2="557.49" y2="1169.3" stroke="#000" stroke-width="1.5" />
<line x1="570.79" y1="1205.5" x2="570.79" y2="1215.7" stroke="#000" stroke-width="1.5" />
<line x1="566.29" y1="1205.5" x2="575.29" y2="1205.5" stroke="#000" stroke-width="1.5" />
<line x1="566.29" y1="1215.7" x2="575.29" y2="1215.7" stroke="#000" stroke-width="1.5" />
<line x1="96.5" y1="1356.9" x2="593.4" y2="1356.9" stroke="#000" stroke-width="2.4" />
<line x1="128.8" y1="1351.1" x2="128.8" y2="1362.2" stroke="#000" stroke-width="2" />
<line x1="159.74" y1="1356.9" x2="159.74" y2="1363" stroke="#000" stroke-width="2" />
<line x1="190.67" y1="1351.1" x2="190.67" y2="1362.2" stroke="#000" stroke-width="2" />
<line x1="221.61" y1="1356.9" x2="221.61" y2="1363" stroke="#000" stroke-width="2" />
<line x1="252.54" y1="1351.1" x2="252.54" y2="1362.2" stroke="#000" stroke-width="2" />
<line x1="283.48" y1="1356.9" x2="283.48" y2="1363" stroke="#000" stroke-width="2" />
<line x1="314.41" y1="1351.1" x2="314.41" y2="1362.2" stroke="#000" stroke-width="2" />
<line x1="345.34" y1="1356.9" x2="345.34" y2="1363" stroke="#000" stroke-width="2" />
<line x1="376.28" y1="1351.1" x2="376.28" y2="1362.2" stroke="#000" stroke-width="2" />
<line x1="407.21" y1="1356.9" x2="407.21" y2="1363" stroke="#000" stroke-width="2" />
<line x1="438.15" y1="1351.1" x2="438.15" y2="1362.2" stroke="#000" stroke-width="2" />
<line x1="469.08" y1="1356.9" x2="469.08" y2="1363" stroke="#000" stroke-width="2" />
<line x1="500.02" y1="1351.1" x2="500.02" y2="1362.2" stroke="#000" stroke-width="2" />
<line x1="530.95" y1="1356.9" x2="530.95" y2="1363" stroke="#000" stroke-width="2" />
<line x1="561.89" y1="1351.1" x2="561.89" y2="1362.2" stroke="#000" stroke-width="2" />
<line x1="592.82" y1="1356.9" x2="592.82" y2="1363" stroke="#000" stroke-width="2" />
<text x="129.8" y="1389" font-family='"Liberation Serif", serif' font-size="17.6" font-weight="normal" fill="#000" text-anchor="middle" stroke="#000" stroke-width="0.12">Control</text>
<text x="191.67" y="1389" font-family='"Liberation Serif", serif' font-size="17.6" font-weight="normal" fill="#000" text-anchor="middle" stroke="#000" stroke-width="0.12">Ariel</text>
<text x="253.54" y="1389" font-family='"Liberation Serif", serif' font-size="17.6" font-weight="normal" fill="#000" text-anchor="middle" stroke="#000" stroke-width="0.12">Bonux</text>
<text x="315.41" y="1389" font-family='"Liberation Serif", serif' font-size="17.6" font-weight="normal" fill="#000" text-anchor="middle" stroke="#000" stroke-width="0.12">Extra</text>
<text x="377.28" y="1389" font-family='"Liberation Serif", serif' font-size="17.6" font-weight="normal" fill="#000" text-anchor="middle" stroke="#000" stroke-width="0.12">Lang</text>
<text x="439.15" y="1389" font-family='"Liberation Serif", serif' font-size="17.6" font-weight="normal" fill="#000" text-anchor="middle" stroke="#000" stroke-width="0.12">Oxi</text>
<text x="501.02" y="1389" font-family='"Liberation Serif", serif' font-size="17.6" font-weight="normal" fill="#000" text-anchor="middle" stroke="#000" stroke-width="0.12">Persil</text>
<text x="562.89" y="1389" font-family='"Liberation Serif", serif' font-size="17.6" font-weight="normal" fill="#000" text-anchor="middle" stroke="#000" stroke-width="0.12">Tide</text>
<text x="342.6" y="1414.4" font-family='"Liberation Serif", serif' font-size="15.5" font-weight="bold" fill="#000" text-anchor="middle" textLength="73.5" lengthAdjust="spacingAndGlyphs">Detergent</text>
<text transform="translate(19.8,1234.2) rotate(-90)" font-family='"Liberation Serif", serif' font-size="16.2" font-weight="bold" fill="#000" text-anchor="middle" textLength="147.5" lengthAdjust="spacingAndGlyphs">Residual activity (%)</text>
<rect x="556.7" y="1102.3" width="6.3" height="5.3" fill="#3366FF" stroke="#000" stroke-width="1"/>
<rect x="556.7" y="1119.4" width="6.3" height="5.3" fill="#FF6600" stroke="#000" stroke-width="1"/>
<text x="567.3" y="1108.9" font-family='"Liberation Sans", sans-serif' font-size="11" font-weight="normal" fill="#000" text-anchor="start" textLength="31" lengthAdjust="spacingAndGlyphs">40 0C</text>
<text x="567.3" y="1125.8" font-family='"Liberation Sans", sans-serif' font-size="11" font-weight="normal" fill="#000" text-anchor="start" textLength="31" lengthAdjust="spacingAndGlyphs">50 0C</text>
</svg>
</body></html>
